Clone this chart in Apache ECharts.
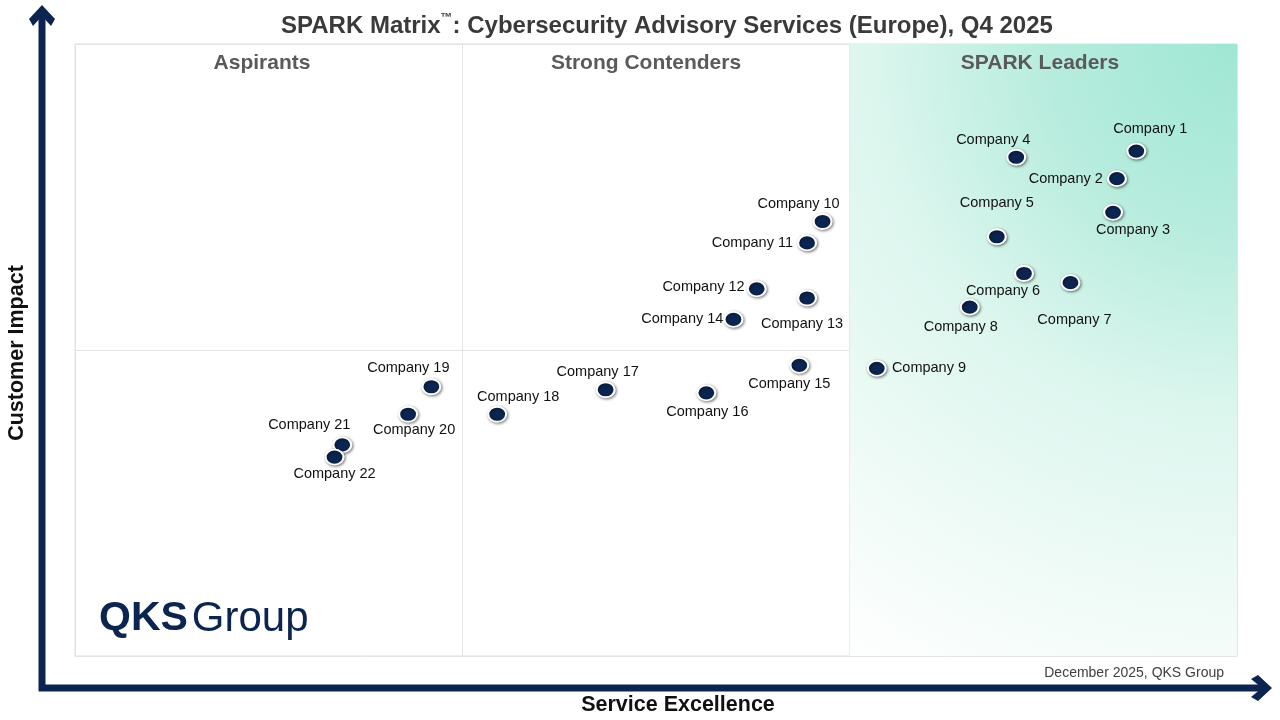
<!DOCTYPE html>
<html>
<head>
<meta charset="utf-8">
<script src="https://cdn.jsdelivr.net/npm/echarts@6/dist/echarts.min.js"></script>
<style>
html,body{margin:0;padding:0;background:#fff;}
#chart{width:1280px;height:720px;}
</style>
</head>
<body>
<div id="chart"></div>
<script>
// ---- data ----
const companies = ['Company 1','Company 2','Company 3','Company 4','Company 5','Company 6','Company 7','Company 8','Company 9','Company 10','Company 11','Company 12','Company 13','Company 14','Company 15','Company 16','Company 17','Company 18','Company 19','Company 20','Company 21','Company 22'];
const serviceExcellence = [2.74,2.69,2.68,2.43,2.38,2.45,2.57,2.31,2.07,1.93,1.89,1.76,1.89,1.70,1.87,1.63,1.37,1.09,0.92,0.86,0.69,0.67];
const customerImpact   = [1.65,1.56,1.45,1.63,1.37,1.25,1.22,1.14,0.94,1.42,1.35,1.20,1.17,1.10,0.95,0.86,0.87,0.79,0.88,0.79,0.69,0.65];
const quadrantNames = ['Aspirants','Strong Contenders','SPARK Leaders'];
const titleText = ['SPARK Matrix', '™', ': Cybersecurity Advisory Services (Europe), Q4 2025'];
const xAxisName = 'Service Excellence';
const yAxisName = 'Customer Impact';
const footnote = 'December 2025, QKS Group';

// ---- label placement (style only) ----
const labelPlacement = [
  ['top',[14,-4],2],['left',[0,0],4],['bottom',[20,0],2],['top',[-23,1],2],
  ['top',[0,-16],2],['bottom',[-21,0],2],['bottom',[4,19],2],['bottom',[-9,2],2],
  ['right',[0,0],5],['top',[-24,0],2],['left',[0,0],4],['left',[0,-2],2],
  ['bottom',[-5,8],2],['left',[0,0],0],['bottom',[-10,1],2],['bottom',[1,1],2],
  ['top',[-8,0],2],['top',[21,1],2],['top',[-23,-1],2],['bottom',[6,-2],2],
  ['top',[-33,-2],2],['bottom',[0,-1],2]
];

const FONT = '"Liberation Sans", Arial, sans-serif';
const NAVY = '#0b2550';

const points = companies.map((n,i)=>({
  name:n,
  value:[serviceExcellence[i], customerImpact[i]],
  label:{position:labelPlacement[i][0], offset:labelPlacement[i][1], distance:labelPlacement[i][2]}
}));

const gridL=75, gridR=43, gridT=44, gridB=64;
const chart = echarts.init(document.getElementById('chart'));

const quadCenters = [262, 646, 1040];

const option = {
  animation:false,
  backgroundColor:'#fff',
  grid:{left:gridL,right:gridR,top:gridT,bottom:gridB,show:true,borderColor:'#dcdcdc',borderWidth:1,backgroundColor:'transparent'},
  xAxis:{type:'value',min:0,max:3,interval:1,
    axisLine:{show:false},axisTick:{show:false},axisLabel:{show:false},
    splitLine:{show:true,lineStyle:{color:'#e4e4e4',width:1}}},
  yAxis:{type:'value',min:0,max:2,interval:1,
    axisLine:{show:false},axisTick:{show:false},axisLabel:{show:false},
    splitLine:{show:true,lineStyle:{color:'#e4e4e4',width:1}}},
  series:[
    {
      type:'scatter',data:[],z:1,silent:true,
      markArea:{silent:true,
        itemStyle:{opacity:1,color:{type:'radial',x:1,y:0,r:1.9,colorStops:[
          {offset:0,color:'#9fe7d3'},
          {offset:0.25,color:'#b6ecdd'},
          {offset:0.5,color:'#dcf6ee'},
          {offset:0.78,color:'#f1fbf8'},
          {offset:1,color:'#ffffff'}]}},
        data:[[{xAxis:2,yAxis:2},{xAxis:3,yAxis:0}]]}
    },
    {
      type:'scatter',z:5,
      symbol:'circle',symbolSize:[18,15],
      itemStyle:{color:NAVY,opacity:1,borderColor:'#ffffff',borderWidth:2,
        shadowColor:'rgba(0,0,0,0.45)',shadowBlur:3,shadowOffsetX:1,shadowOffsetY:1},
      label:{show:true,formatter:'{b}',color:'#111111',opacity:1,fontSize:14.5,fontFamily:FONT},
      emphasis:{disabled:true},
      data:points
    }
  ],
  graphic:[
    // title
    {type:'text',left:281,top:12,z:10,style:{
      text:'{a|'+titleText[0]+'}{tm|'+titleText[1]+'}{a|'+titleText[2]+'}',
      rich:{
        a:{fontSize:24,fontWeight:'bold',fontFamily:FONT,fill:'#3a3a3a',lineHeight:28},
        tm:{fontSize:12,fontWeight:'bold',fontFamily:FONT,fill:'#3a3a3a',verticalAlign:'top',lineHeight:28,padding:[0,0,12,0]}
      }}},
    // quadrant names
    ...quadrantNames.map((q,i)=>({type:'text',x:quadCenters[i],y:63,z:10,style:{
      text:q,fontSize:21,fontWeight:'bold',fontFamily:FONT,fill:'#5a5a5a',align:'center',verticalAlign:'middle'}})),
    // axis names
    {type:'text',x:678,y:705,z:10,style:{text:xAxisName,fontSize:21.5,fontWeight:'bold',fontFamily:FONT,fill:'#111',align:'center',verticalAlign:'middle'}},
    {type:'text',x:17,y:353,rotation:Math.PI/2,z:10,style:{text:yAxisName,fontSize:21.5,fontWeight:'bold',fontFamily:FONT,fill:'#111',align:'center',verticalAlign:'middle'}},
    // footnote
    {type:'text',x:1224,y:673,z:10,style:{text:footnote,fontSize:14,fontFamily:FONT,fill:'#404040',align:'right',verticalAlign:'middle'}},
    // logo
    {type:'text',left:99,top:598,z:10,style:{
      text:'{q|QKS}{g|Group}',
      rich:{
        q:{fontSize:41,fontWeight:900,fontFamily:FONT,fill:NAVY,lineHeight:46},
        g:{fontSize:42,fontWeight:'normal',fontFamily:FONT,fill:NAVY,lineHeight:46,padding:[0,0,0,4]}
      }}},
    // axis arrows
    {type:'polyline',z:10,shape:{points:[[42,14],[42,688],[1262,688]]},style:{stroke:NAVY,lineWidth:7,fill:null}},
    {type:'polygon',z:10,shape:{points:[[42,5],[55,19],[51,26],[42,16],[33,26],[29,19]]},style:{fill:NAVY}},
    {type:'polygon',z:10,shape:{points:[[1272,688],[1258,675],[1251,679],[1262,688],[1251,697],[1258,701]]},style:{fill:NAVY}}
  ]
};
chart.setOption(option);
</script>
</body>
</html>
